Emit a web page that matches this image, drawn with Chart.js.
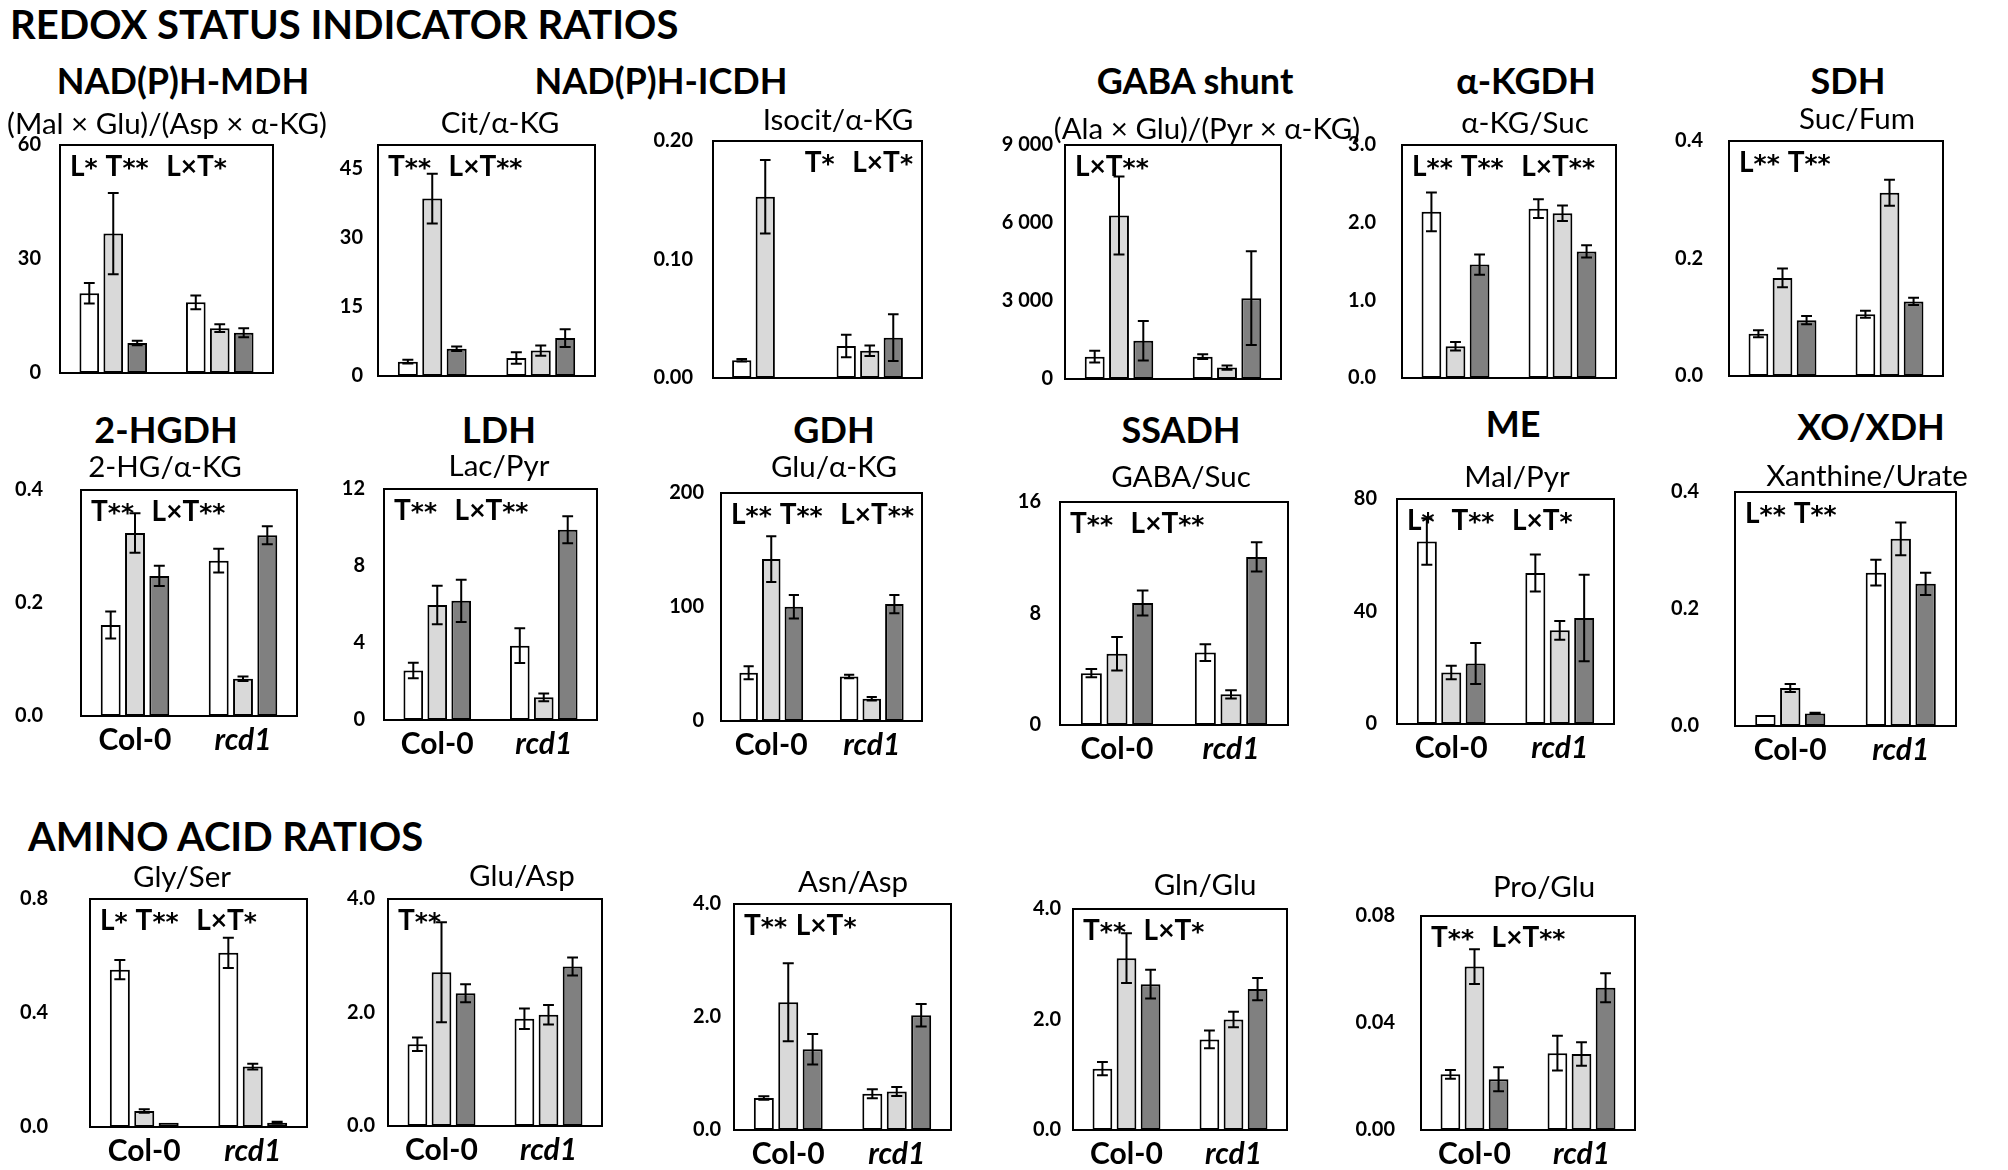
<!DOCTYPE html>
<html><head><meta charset="utf-8">
<script src="https://cdn.jsdelivr.net/npm/chart.js@4.4.0/dist/chart.umd.min.js"></script>
<style>
html,body{margin:0;padding:0;background:#fff;}
body{width:2008px;height:1170px;position:relative;overflow:hidden;font-family:Lato,'Open Sans',sans-serif;color:#000;}
.t{position:absolute;white-space:pre;line-height:1;}
.h1{font-weight:bold;font-size:40px;transform:translateY(-50%);}
.h2{font-weight:bold;font-size:36px;transform:translate(-50%,-50%);}
.sub{font-size:29.5px;transform:translate(-50%,-50%);}
.ann,.annr{font-weight:bold;font-size:28px;letter-spacing:0px;word-spacing:2px;}
.ann{transform:translateY(-50%);}
.annr{transform:translate(-100%,-50%);}
.ast{font-family:'DejaVu Sans',sans-serif;font-size:25px;font-weight:bold;}
.pc{position:absolute;}
</style></head><body>
<script>
// ---------------- DATA ----------------
const groups = ['Col-0', 'rcd1'];
const seriesNames = ['Series 1', 'Series 2', 'Series 3'];

// each *_mean / *_err : [series1, series2, series3] x [Col-0, rcd1]
const mdh_mean = [[21.0, 18.6], [36.7, 11.8], [7.9, 10.6]];
const mdh_err  = [[2.7, 1.8], [10.7, 1.0], [0.6, 1.2]];
const mdh_ticks = [0, 30, 60];

const cit_mean = [[3.1, 3.9], [38.4, 5.5], [5.9, 8.2]];
const cit_err  = [[0.4, 1.25], [5.4, 1.1], [0.5, 1.9]];
const cit_ticks = [0, 15, 30, 45];

const isocit_mean = [[0.015, 0.027], [0.153, 0.023], [null, 0.034]];
const isocit_err  = [[0.001, 0.0095], [0.031, 0.0045], [null, 0.0197]];
const isocit_ticks = [0, 0.10, 0.20];

const gaba_mean = [[860, 860], [6290, 440], [1470, 3110]];
const gaba_err  = [[225, 90], [1500, 80], [760, 1800]];
const gaba_ticks = [0, 3000, 6000, 9000];

const kgdh_mean = [[2.14, 2.18], [0.41, 2.12], [1.46, 1.63]];
const kgdh_err  = [[0.25, 0.12], [0.055, 0.10], [0.13, 0.08]];
const kgdh_ticks = [0, 1.0, 2.0, 3.0];

const sdh_mean = [[0.072, 0.105], [0.167, 0.312], [0.095, 0.127]];
const sdh_err  = [[0.006, 0.006], [0.016, 0.022], [0.007, 0.006]];
const sdh_ticks = [0, 0.2, 0.4];

const hgdh_mean = [[0.161, 0.275], [0.324, 0.066], [0.248, 0.320]];
const hgdh_err  = [[0.024, 0.021], [0.035, 0.004], [0.018, 0.016]];
const hgdh_ticks = [0, 0.2, 0.4];

const ldh_mean = [[2.57, 3.86], [5.98, 1.18], [6.19, 9.88]];
const ldh_err  = [[0.4, 0.9], [1.0, 0.2], [1.1, 0.7]];
const ldh_ticks = [0, 4, 8, 12];

const gdh_mean = [[42.4, 39.0], [142, 19.5], [100.3, 102.6]];
const gdh_err  = [[5.7, 1.5], [20, 1.5], [10.3, 8]];
const gdh_ticks = [0, 100, 200];

const ssadh_mean = [[3.72, 5.2], [5.11, 2.2], [8.75, 12.06]];
const ssadh_err  = [[0.3, 0.6], [1.2, 0.3], [0.9, 1.05]];
const ssadh_ticks = [0, 8, 16];

const me_mean = [[64.9, 53.7], [18.3, 33.3], [21.5, 37.7]];
const me_err  = [[8.3, 6.6], [2.4, 3.3], [7.3, 15.4]];
const me_ticks = [0, 40, 80];

const xo_mean = [[0.0186, 0.262], [0.065, 0.320], [0.0215, 0.243]];
const xo_err  = [[0, 0.022], [0.007, 0.028], [0.001, 0.019]];
const xo_ticks = [0, 0.2, 0.4];

const glyser_mean = [[0.552, 0.611], [0.056, 0.212], [0.015, 0.015]];
const glyser_err  = [[0.034, 0.053], [0.006, 0.010], [0, 0.003]];
const glyser_ticks = [0, 0.4, 0.8];

const gluasp_mean = [[1.44, 1.89], [2.71, 1.96], [2.34, 2.81]];
const gluasp_err  = [[0.12, 0.18], [0.88, 0.17], [0.16, 0.16]];
const gluasp_ticks = [0, 2.0, 4.0];

const asnasp_mean = [[0.567, 0.64], [2.26, 0.68], [1.43, 2.03]];
const asnasp_err  = [[0.03, 0.08], [0.69, 0.08], [0.27, 0.2]];
const asnasp_ticks = [0, 2.0, 4.0];

const glnglu_mean = [[1.11, 1.64], [3.11, 2.0], [2.64, 2.55]];
const glnglu_err  = [[0.12, 0.16], [0.45, 0.14], [0.26, 0.2]];
const glnglu_ticks = [0, 2.0, 4.0];

const proglu_mean = [[0.0208, 0.0287], [0.0611, 0.0284], [0.019, 0.0532]];
const proglu_err  = [[0.0016, 0.0065], [0.0065, 0.0044], [0.0045, 0.0054]];
const proglu_ticks = [0, 0.04, 0.08];

// ---------------- TEXT ----------------
const sections = [
  {text: 'REDOX STATUS INDICATOR RATIOS', x: 10, y: 24},
  {text: 'AMINO ACID RATIOS', x: 28, y: 836}
];
const titles = [
  {text: 'NAD(P)H-MDH', x: 183, y: 80}, {text: 'NAD(P)H-ICDH', x: 661, y: 80},
  {text: 'GABA shunt', x: 1195, y: 80}, {text: 'α-KGDH', x: 1526, y: 80}, {text: 'SDH', x: 1848, y: 80},
  {text: '2-HGDH', x: 166, y: 429}, {text: 'LDH', x: 499, y: 429}, {text: 'GDH', x: 834, y: 429},
  {text: 'SSADH', x: 1181, y: 429}, {text: 'ME', x: 1513, y: 423}, {text: 'XO/XDH', x: 1871, y: 426}
];

// ---------------- PANELS (layout) ----------------
const panels = [
  {sub: '(Mal × Glu)/(Asp × α-KG)', sx: 167, sy: 123, ann: 'L* T**  L×T*', mean: mdh_mean, err: mdh_err, ticks: mdh_ticks, max: 60, box: [60, 145, 213, 228], pad: 19, xl: false},
  {sub: 'Cit/α-KG', sx: 500, sy: 122, ann: 'T**  L×T**', mean: cit_mean, err: cit_err, ticks: cit_ticks, max: 50, box: [378, 145, 217, 231], pad: 15, xl: false},
  {sub: 'Isocit/α-KG', sx: 838, sy: 119, ann: 'T*  L×T*', annRight: true, mean: isocit_mean, err: isocit_err, ticks: isocit_ticks, max: 0.20, dec: 2, box: [713, 141, 209, 237], pad: 20, xl: false},
  {sub: '(Ala × Glu)/(Pyr × α-KG)', sx: 1207, sy: 128, ann: 'L×T**', mean: gaba_mean, err: gaba_err, ticks: gaba_ticks, max: 9000, space: true, box: [1065, 145, 216, 234], pad: 12, xl: false},
  {sub: 'α-KG/Suc', sx: 1525, sy: 122, ann: 'L** T**  L×T**', mean: kgdh_mean, err: kgdh_err, ticks: kgdh_ticks, max: 3.0, dec: 1, box: [1402, 145, 214, 233], pad: 26, xl: false},
  {sub: 'Suc/Fum', sx: 1857, sy: 118, ann: 'L** T**', mean: sdh_mean, err: sdh_err, ticks: sdh_ticks, max: 0.4, dec: 1, box: [1729, 141, 214, 235], pad: 26, xl: false},

  {sub: '2-HG/α-KG', sx: 165, sy: 466, ann: 'T**  L×T**', mean: hgdh_mean, err: hgdh_err, ticks: hgdh_ticks, max: 0.4, dec: 1, box: [81, 490, 216, 226], pad: 38, xl: true},
  {sub: 'Lac/Pyr', sx: 499, sy: 465, ann: 'T**  L×T**', mean: ldh_mean, err: ldh_err, ticks: ldh_ticks, max: 12, box: [384, 489, 213, 231], pad: 19, xl: true},
  {sub: 'Glu/α-KG', sx: 834, sy: 466, ann: 'L** T**  L×T**', mean: gdh_mean, err: gdh_err, ticks: gdh_ticks, max: 200, box: [721, 493, 201, 228], pad: 17, xl: true},
  {sub: 'GABA/Suc', sx: 1181, sy: 476, ann: 'T**  L×T**', mean: ssadh_mean, err: ssadh_err, ticks: ssadh_ticks, max: 16, box: [1060, 502, 228, 223], pad: 19, xl: true},
  {sub: 'Mal/Pyr', sx: 1517, sy: 476, ann: 'L*  T**  L×T*', mean: me_mean, err: me_err, ticks: me_ticks, max: 80, box: [1397, 499, 217, 225], pad: 20, xl: true},
  {sub: 'Xanthine/Urate', sx: 1867, sy: 475, ann: 'L** T**', mean: xo_mean, err: xo_err, ticks: xo_ticks, max: 0.4, dec: 1, box: [1735, 492, 221, 234], pad: 36, xl: true},

  {sub: 'Gly/Ser', sx: 182, sy: 876, ann: 'L* T**  L×T*', mean: glyser_mean, err: glyser_err, ticks: glyser_ticks, max: 0.8, dec: 1, box: [90, 899, 217, 228], pad: 42, xl: true},
  {sub: 'Glu/Asp', sx: 522, sy: 875, ann: 'T**', mean: gluasp_mean, err: gluasp_err, ticks: gluasp_ticks, max: 4.0, dec: 1, box: [388, 899, 214, 227], pad: 13, xl: true},
  {sub: 'Asn/Asp', sx: 853, sy: 881, ann: 'T** L×T*', mean: asnasp_mean, err: asnasp_err, ticks: asnasp_ticks, max: 4.0, dec: 1, box: [734, 904, 217, 226], pad: 13, xl: true},
  {sub: 'Gln/Glu', sx: 1205, sy: 884, ann: 'T**  L×T*', mean: glnglu_mean, err: glnglu_err, ticks: glnglu_ticks, max: 4.0, dec: 1, box: [1073, 909, 214, 221], pad: 12, xl: true},
  {sub: 'Pro/Glu', sx: 1544, sy: 886, ann: 'T**  L×T**', mean: proglu_mean, err: proglu_err, ticks: proglu_ticks, max: 0.08, dec: 2, box: [1421, 916, 214, 214], pad: 26, xl: true}
];

const fills = ['#ffffff', '#d9d9d9', '#808080'];
const FONT = 'Lato';

function addText(cls, text, x, y) {
  const d = document.createElement('div');
  d.className = 't ' + cls;
  d.textContent = text;
  d.style.left = x + 'px';
  d.style.top = y + 'px';
  document.body.appendChild(d);
  return d;
}
function addAnn(cls, text, x, y) {
  const d = document.createElement('div');
  d.className = 't ' + cls;
  for (const ch of text) {
    if (ch === '*') {
      const s = document.createElement('span');
      s.className = 'ast';
      s.textContent = '*';
      d.appendChild(s);
    } else {
      d.appendChild(document.createTextNode(ch));
    }
  }
  d.style.left = x + 'px';
  d.style.top = y + 'px';
  document.body.appendChild(d);
}
sections.forEach(s => addText('h1', s.text, s.x, s.y));
titles.forEach(s => addText('h2', s.text, s.x, s.y));

const boxPlugin = {
  id: 'boxPlugin',
  afterDraw(chart) {
    const a = chart.chartArea, ctx = chart.ctx;
    ctx.save();
    ctx.strokeStyle = '#000';
    ctx.lineWidth = 2;
    ctx.strokeRect(a.left, a.top, a.right - a.left, a.bottom - a.top);
    ctx.restore();
  }
};
const errPlugin = {
  id: 'errPlugin',
  afterDatasetsDraw(chart, args, opts) {
    const ctx = chart.ctx, ys = chart.scales.y;
    ctx.save();
    ctx.strokeStyle = '#000';
    ctx.lineWidth = 2;
    chart.data.datasets.forEach((ds, i) => {
      const meta = chart.getDatasetMeta(i);
      meta.data.forEach((el, j) => {
        const v = ds.data[j], e = opts.err[i][j];
        if (v == null || !e) return;
        const x = el.x, w = el.width * 0.55;
        const y1 = ys.getPixelForValue(v + e), y2 = ys.getPixelForValue(Math.max(0, v - e));
        ctx.beginPath();
        ctx.moveTo(x, y1); ctx.lineTo(x, y2);
        ctx.moveTo(x - w / 2, y1); ctx.lineTo(x + w / 2, y1);
        ctx.moveTo(x - w / 2, y2); ctx.lineTo(x + w / 2, y2);
        ctx.stroke();
      });
    });
    ctx.restore();
  }
};

function fmt(p, v) {
  if (p.space) return v >= 1000 ? Math.floor(v / 1000) + ' ' + String(v % 1000).padStart(3, '0') : String(v);
  if (p.dec) return v.toFixed(p.dec);
  return String(v);
}

function config(p, XH) {
  return {
    type: 'bar',
    data: {
      labels: groups,
      datasets: p.mean.map((m, i) => ({
        label: seriesNames[i], data: m, backgroundColor: fills[i], borderColor: '#000',
        borderWidth: 2, borderSkipped: false, categoryPercentage: 0.675, barPercentage: 0.82
      }))
    },
    options: {
      responsive: false, maintainAspectRatio: false, animation: false, devicePixelRatio: 1,
      layout: {padding: {top: PT, right: PR, left: 0, bottom: 2}},
      plugins: {legend: {display: false}, tooltip: {enabled: false}, errPlugin: {err: p.err}},
      scales: {
        x: {
          grid: {display: false, drawTicks: false}, border: {display: false},
          ticks: {display: p.xl, color: '#000', padding: 6,
            font: (c) => ({family: FONT, size: 30, weight: 'bold', style: c.index === 1 ? 'italic' : 'normal'})},
          afterFit(s) { s.height = XH; }
        },
        y: {
          min: 0, max: p.max,
          grid: {display: false, drawTicks: false}, border: {display: false},
          afterBuildTicks(s) { s.ticks = p.ticks.map(v => ({value: v})); },
          ticks: {color: '#000', padding: p.pad, font: {family: FONT, size: 20, weight: 'bold'},
            callback: (v) => fmt(p, v)},
          afterFit(s) { s.width = AXW; }
        }
      }
    },
    plugins: [boxPlugin, errPlugin]
  };
}

function makeCanvas(W, H) {
  const div = document.createElement('div');
  div.className = 'pc';
  div.style.width = W + 'px';
  div.style.height = H + 'px';
  const cv = document.createElement('canvas');
  cv.width = W; cv.height = H;
  cv.style.width = W + 'px'; cv.style.height = H + 'px';
  div.appendChild(cv);
  document.body.appendChild(div);
  return {div, cv};
}

const AXW = 90, PT = 16, PR = 4;
panels.forEach(p => {
  const [bx, by, bw, bh] = p.box;
  const XH = p.xl ? 46 : 0;
  let W = bw + AXW + PR, H = bh + PT + XH + 2;

  // pass 1: measure plot area
  const probe = makeCanvas(W, H);
  probe.div.style.left = '-3000px';
  const c1 = new Chart(probe.cv.getContext('2d'), config(p, XH));
  const a = c1.chartArea;
  W += bw - (a.right - a.left);
  H += bh - (a.bottom - a.top);
  c1.destroy();
  probe.div.remove();

  // pass 2: final chart whose plot area equals the box
  const fin = makeCanvas(W, H);
  const chart = new Chart(fin.cv.getContext('2d'), config(p, XH));
  const a2 = chart.chartArea;
  fin.div.style.left = (bx - a2.left) + 'px';
  fin.div.style.top = (by - a2.top) + 'px';

  addText('sub', p.sub, p.sx, p.sy);
  if (p.annRight) addAnn('annr', p.ann, bx + bw - 9, by + 20);
  else addAnn('ann', p.ann, bx + 10, by + 20);
});
</script>
</body></html>
